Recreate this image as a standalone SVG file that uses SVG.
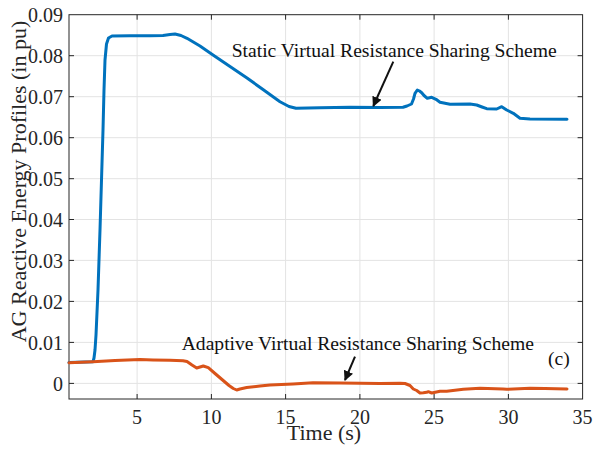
<svg xmlns="http://www.w3.org/2000/svg" width="597" height="451" viewBox="0 0 597 451">
<style>
.grid{stroke:#e3e3e3;stroke-width:1;fill:none}
.axis{stroke:#262626;stroke-width:1;fill:none}
.tick{stroke:#262626;stroke-width:1}
.tl{font-family:"Liberation Serif","Times New Roman",serif;font-size:20px;fill:#262626}
.lbl{font-family:"Liberation Serif","Times New Roman",serif;font-size:22px;fill:#262626}
.ann{font-family:"Liberation Serif","Times New Roman",serif;font-size:19.6px;fill:#111}
.curve{fill:none;stroke-width:3;stroke-linejoin:round;stroke-linecap:round}
</style>
<defs>
<marker id="ah" viewBox="0 0 10 10" refX="9" refY="5" markerWidth="5" markerHeight="5" orient="auto" markerUnits="strokeWidth">
<path d="M0,0 L10,5 L0,10 z" fill="#111"/>
</marker>
</defs>
<rect width="597" height="451" fill="#fff"/>
<g id="grid">
<path class="grid" d="M137.1,14.7V399 M211.4,14.7V399 M285.6,14.7V399 M359.9,14.7V399 M434.1,14.7V399 M508.4,14.7V399"/>
<path class="grid" d="M69,55.7H582.6 M69,96.7H582.6 M69,137.7H582.6 M69,178.7H582.6 M69,219.5H582.6 M69,260.4H582.6 M69,301.4H582.6 M69,342.4H582.6 M69,383.4H582.6"/>
</g>
<g id="axes">
<rect class="axis" x="69" y="14.7" width="513.6" height="384.3"/>
<path class="tick" d="M137.1,399v-5 M211.4,399v-5 M285.6,399v-5 M359.9,399v-5 M434.1,399v-5 M508.4,399v-5 M137.1,14.7v5 M211.4,14.7v5 M285.6,14.7v5 M359.9,14.7v5 M434.1,14.7v5 M508.4,14.7v5"/>
<path class="tick" d="M69,55.7h5 M69,96.7h5 M69,137.7h5 M69,178.7h5 M69,219.5h5 M69,260.4h5 M69,301.4h5 M69,342.4h5 M69,383.4h5 M582.6,55.7h-5 M582.6,96.7h-5 M582.6,137.7h-5 M582.6,178.7h-5 M582.6,219.5h-5 M582.6,260.4h-5 M582.6,301.4h-5 M582.6,342.4h-5 M582.6,383.4h-5"/>
</g>
<g id="xticklabels" class="tl" text-anchor="middle">
<text x="137.1" y="424">5</text>
<text x="211.4" y="424">10</text>
<text x="285.6" y="424">15</text>
<text x="359.9" y="424">20</text>
<text x="434.1" y="424">25</text>
<text x="508.4" y="424">30</text>
<text x="582.6" y="424">35</text>
</g>
<g id="yticklabels" class="tl" text-anchor="end">
<text x="63" y="22">0.09</text>
<text x="63" y="63">0.08</text>
<text x="63" y="104">0.07</text>
<text x="63" y="145">0.06</text>
<text x="63" y="186">0.05</text>
<text x="63" y="227">0.04</text>
<text x="63" y="268">0.03</text>
<text x="63" y="309">0.02</text>
<text x="63" y="350">0.01</text>
<text x="63" y="391">0</text>
</g>
<g id="xlabel"><text class="lbl" x="324" y="440" text-anchor="middle">Time (s)</text></g>
<g id="ylabel"><text class="lbl" transform="translate(26,181.5) rotate(-90)" text-anchor="middle">AG Reactive Energy Profiles (in pu)</text></g>
<g id="curves">
<path id="static" class="curve" stroke="#0072BD" d="M69,362.6 L93,361.8 L94,358 L95,350 L96,335 L98,290 L100,230 L101.5,180 L103,130 L104,90 L105,60 L106.5,44 L108.5,38 L112,36 L130,35.8 L150,35.8 L163,35.5 L170,34.5 L175,34 L181,35.5 L187,38.3 L200,46 L213,55 L230,66.5 L247,78 L263,89.5 L280,101.7 L289,106.5 L296,108.3 L320,107.8 L350,107.3 L380,107.5 L403,107.3 L407,106 L411.5,104 L413.5,99 L415,93.3 L417.3,90 L419.5,91 L421.7,92.7 L424,95.5 L427.3,98.3 L431.7,97.3 L436,99.3 L440,102.3 L445,103.3 L450,104.3 L470,104 L476.7,105 L482,107 L486.7,108.7 L496.7,109 L501.7,106.7 L506.7,110 L513.3,113.3 L520,118.3 L530,119 L567,119.3"/>
<path id="adaptive" class="curve" stroke="#D95319" d="M69,362.7 L93,361.7 L115,360.5 L140,359.5 L153,360 L170,360.3 L183,360.7 L187,361.5 L192,365 L196.7,368 L203.3,366 L208.3,367.7 L215,373.5 L222,379.5 L229,385.5 L233.3,388.5 L236.7,390 L240,389 L246.7,387.5 L260,386 L270,385 L293,384 L313,382.8 L340,383 L360,383.3 L380,383.5 L400,383.3 L405,383.5 L410,385.5 L413.3,389 L416.7,390.5 L420,393 L423.3,392.7 L426.7,392.3 L428.3,391.7 L431.7,393 L440,391.3 L446.7,391.2 L463.3,389.3 L480,388.3 L503,389 L506.7,389.3 L530,388.3 L545,388.5 L567,389"/>
</g>
<g id="connectors">
<line x1="393.3" y1="61.7" x2="373.3" y2="106" stroke="#111" stroke-width="2" marker-end="url(#ah)"/>
<line x1="355" y1="356.7" x2="345" y2="380" stroke="#111" stroke-width="2" marker-end="url(#ah)"/>
</g>
<g id="annotations" class="ann">
<text x="231.7" y="56.7">Static Virtual Resistance Sharing Scheme</text>
<text x="181.7" y="350">Adaptive Virtual Resistance Sharing Scheme</text>
<text x="548" y="365">(c)</text>
</g>
</svg>
